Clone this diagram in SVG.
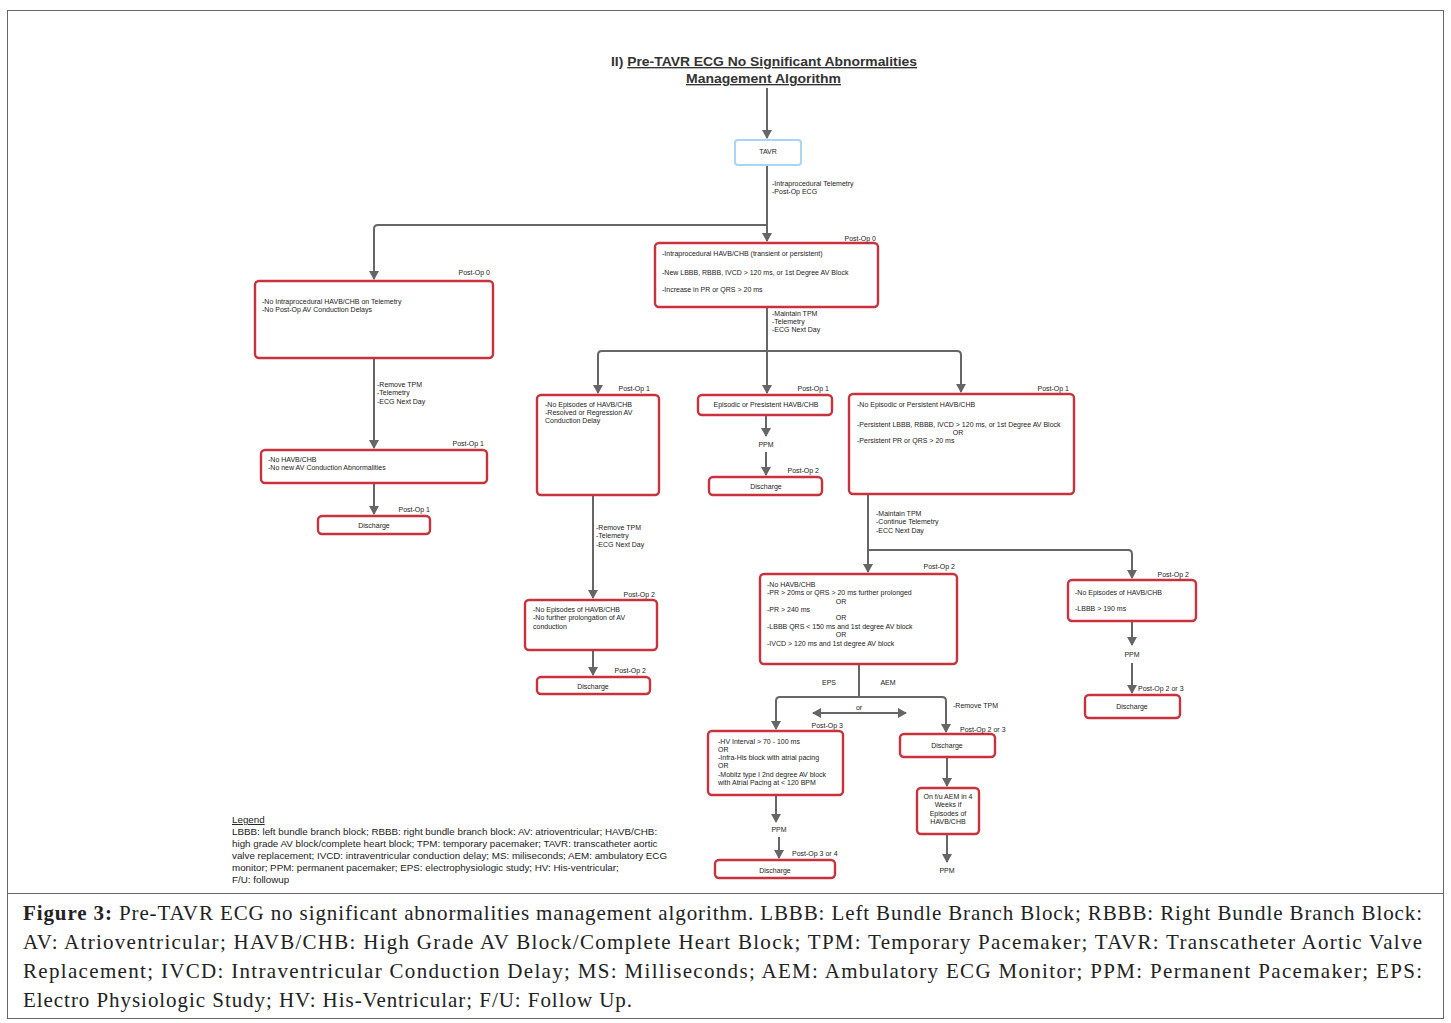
<svg xmlns="http://www.w3.org/2000/svg" width="1451" height="1023" viewBox="0 0 1451 1023">
<style>
.t{font-family:"Liberation Sans",Arial,sans-serif;font-size:7px;fill:#222}
.tc{text-anchor:middle}
.te{text-anchor:end}
.box{fill:#fff;stroke:#c8323c;stroke-width:2.4}
.con{fill:none;stroke:#666;stroke-width:2}
.leg{font-family:"Liberation Sans",Arial,sans-serif;font-size:9.8px;fill:#222}
.cap{font-family:"Liberation Serif","Times New Roman",serif;font-size:21px;fill:#222}
.title{font-family:"Liberation Sans",Arial,sans-serif;font-size:13.5px;font-weight:bold;fill:#333}
</style>
<defs>
<marker id="ah" markerWidth="10" markerHeight="10" refX="8" refY="5" orient="auto" markerUnits="userSpaceOnUse">
<path d="M0,0 L9,5 L0,10 Z" fill="#666"/>
</marker>
</defs>
<rect x="7.5" y="10.5" width="1436" height="1008" fill="#fff" stroke="#666" stroke-width="1"/>
<line x1="7.5" y1="893.5" x2="1443.5" y2="893.5" stroke="#666" stroke-width="1"/>

<g id="title">
<text class="title" x="611" y="66" textLength="306" lengthAdjust="spacingAndGlyphs">II) <tspan text-decoration="underline">Pre-TAVR ECG No Significant Abnormalities</tspan></text>
<text class="title" x="686" y="83" textLength="155" lengthAdjust="spacingAndGlyphs" text-decoration="underline">Management Algorithm</text>
</g>

<g id="connectors">
<path class="con" d="M767,88 V138" marker-end="url(#ah)"/>
<path class="con" d="M767,165 V241" marker-end="url(#ah)"/>
<path class="con" d="M767,225 H378 Q374,225 374,229 V279" marker-end="url(#ah)"/>
<path class="con" d="M374,358 V448" marker-end="url(#ah)"/>
<path class="con" d="M374,483 V514" marker-end="url(#ah)"/>
<path class="con" d="M767,307 V393" marker-end="url(#ah)"/>
<path class="con" d="M767,351 H602 Q598,351 598,355 V393" marker-end="url(#ah)"/>
<path class="con" d="M767,351 H957 Q961,351 961,355 V392" marker-end="url(#ah)"/>
<path class="con" d="M593,495 V598" marker-end="url(#ah)"/>
<path class="con" d="M593,650 V675" marker-end="url(#ah)"/>
<path class="con" d="M766,415 V436" marker-end="url(#ah)"/>
<path class="con" d="M766,452 V475" marker-end="url(#ah)"/>
<path class="con" d="M868,494 V572" marker-end="url(#ah)"/>
<path class="con" d="M868,550 H1128 Q1132,550 1132,554 V578" marker-end="url(#ah)"/>
<path class="con" d="M1132,621 V645" marker-end="url(#ah)"/>
<path class="con" d="M1132,663 V693" marker-end="url(#ah)"/>
<path class="con" d="M859,664 V697 H780 Q776,697 776,701 V729" marker-end="url(#ah)"/>
<path class="con" d="M859,697 H942 Q946,697 946,701 V732" marker-end="url(#ah)"/>
<path class="con" d="M860,713 H906" marker-end="url(#ah)"/>
<path class="con" d="M860,713 H813" marker-end="url(#ah)"/>
<path class="con" d="M776,795 V822" marker-end="url(#ah)"/>
<path class="con" d="M779,837 V858" marker-end="url(#ah)"/>
<path class="con" d="M947,757 V786" marker-end="url(#ah)"/>
<path class="con" d="M947,834 V862" marker-end="url(#ah)"/>
<text class="t" x="772" y="186">-Intraprocedural Telemetry</text>
<text class="t" x="772" y="194">-Post-Op ECG</text>
<text class="t" x="377" y="387">-Remove TPM</text>
<text class="t" x="377" y="395">-Telemetry</text>
<text class="t" x="377" y="404">-ECG Next Day</text>
<text class="t" x="772" y="316">-Maintain TPM</text>
<text class="t" x="772" y="324">-Telemetry</text>
<text class="t" x="772" y="332">-ECG Next Day</text>
<text class="t" x="596" y="530">-Remove TPM</text>
<text class="t" x="596" y="538">-Telemetry</text>
<text class="t" x="596" y="547">-ECG Next Day</text>
<text class="t tc" x="766" y="447">PPM</text>
<text class="t" x="876" y="516">-Maintain TPM</text>
<text class="t" x="876" y="524">-Continue Telemetry</text>
<text class="t" x="876" y="533">-ECC Next Day</text>
<text class="t tc" x="1132" y="657">PPM</text>
<text class="t tc" x="829" y="685">EPS</text>
<text class="t tc" x="888" y="685">AEM</text>
<text class="t tc" x="859" y="710">or</text>
<text class="t" x="953" y="708">-Remove TPM</text>
<text class="t tc" x="779" y="832">PPM</text>
<text class="t tc" x="947" y="873">PPM</text>
</g>

<g id="tavr">
<rect x="735" y="140" width="66" height="25" rx="3" fill="#fff" stroke="#a9d5f2" stroke-width="2"/>
<text class="t tc" x="768" y="154">TAVR</text>
</g>

<g id="center-postop0">
<rect class="box" x="655" y="243" width="223" height="64" rx="4"/>
<text class="t te" x="876" y="241">Post-Op 0</text>
<text class="t" x="662" y="256">-Intraprocedural HAVB/CHB (transient or persistent)</text>
<text class="t" x="662" y="275">-New LBBB, RBBB, IVCD &gt;  120 ms, or 1st Degree AV Block</text>
<text class="t" x="662" y="292">-Increase in PR or QRS &gt; 20 ms</text>
</g>

<g id="left-postop0">
<rect class="box" x="255" y="281" width="238" height="77" rx="4"/>
<text class="t te" x="490" y="275">Post-Op 0</text>
<text class="t" x="262" y="304">-No Intraprocedural HAVB/CHB on Telemetry</text>
<text class="t" x="262" y="312">-No Post-Op AV Conduction Delays</text>
</g>

<g id="left-postop1">
<rect class="box" x="261" y="450" width="226" height="33" rx="4"/>
<text class="t te" x="484" y="446">Post-Op 1</text>
<text class="t" x="268" y="462">-No HAVB/CHB</text>
<text class="t" x="268" y="470">-No new AV Conduction Abnormalities</text>
</g>

<g id="left-discharge">
<rect class="box" x="318" y="516" width="112" height="18" rx="4"/>
<text class="te t" x="430" y="512">Post-Op 1</text>
<text class="t tc" x="374" y="528">Discharge</text>
</g>

<g id="midleft-postop1">
<rect class="box" x="537" y="395" width="122" height="100" rx="4"/>
<text class="t te" x="650" y="391">Post-Op 1</text>
<text class="t" x="545" y="407">-No Episodes of HAVB/CHB</text>
<text class="t" x="545" y="415">-Resolved or Regression AV</text>
<text class="t" x="545" y="423">Conduction Delay</text>
</g>

<g id="midleft-postop2">
<rect class="box" x="525" y="600" width="132" height="50" rx="4"/>
<text class="t te" x="655" y="597">Post-Op 2</text>
<text class="t" x="533" y="612">-No Episodes of HAVB/CHB</text>
<text class="t" x="533" y="620">-No further prolongation of AV</text>
<text class="t" x="533" y="629">conduction</text>
</g>

<g id="midleft-discharge">
<rect class="box" x="537" y="677" width="113" height="17" rx="4"/>
<text class="t te" x="646" y="673">Post-Op 2</text>
<text class="t tc" x="593" y="689">Discharge</text>
</g>

<g id="center-postop1">
<rect class="box" x="698" y="395" width="134" height="20" rx="4"/>
<text class="t te" x="829" y="391">Post-Op 1</text>
<text class="t tc" x="766" y="407">Episodic or Presistent HAVB/CHB</text>
</g>

<g id="center-discharge">
<rect class="box" x="709" y="477" width="113" height="18" rx="4"/>
<text class="t te" x="819" y="473">Post-Op 2</text>
<text class="t tc" x="766" y="489">Discharge</text>
</g>

<g id="right-postop1">
<rect class="box" x="849" y="394" width="225" height="100" rx="4"/>
<text class="t te" x="1069" y="391">Post-Op 1</text>
<text class="t" x="857" y="407">-No Episodic or Persistent HAVB/CHB</text>
<text class="t" x="857" y="427">-Persistent LBBB, RBBB, IVCD &gt;  120 ms, or 1st Degree AV Block</text>
<text class="t tc" x="958" y="435">OR</text>
<text class="t" x="857" y="443">-Persistent PR or QRS &gt; 20 ms</text>
</g>

<g id="postop2-main">
<rect class="box" x="760" y="574" width="197" height="90" rx="4"/>
<text class="t te" x="955" y="569">Post-Op 2</text>
<text class="t" x="767" y="587">-No HAVB/CHB</text>
<text class="t" x="767" y="595">-PR &gt; 20ms or QRS &gt; 20 ms further prolonged</text>
<text class="t tc" x="841" y="604">OR</text>
<text class="t" x="767" y="612">-PR &gt; 240 ms</text>
<text class="t tc" x="841" y="620">OR</text>
<text class="t" x="767" y="629">-LBBB QRS &lt; 150 ms and 1st degree AV block</text>
<text class="t tc" x="841" y="637">OR</text>
<text class="t" x="767" y="646">-IVCD &gt; 120 ms  and 1st degree AV block</text>
</g>

<g id="right-postop2">
<rect class="box" x="1068" y="580" width="128" height="41" rx="4"/>
<text class="t te" x="1189" y="577">Post-Op 2</text>
<text class="t" x="1075" y="595">-No Episodes of HAVB/CHB</text>
<text class="t" x="1075" y="611">-LBBB &gt; 190 ms</text>
</g>

<g id="right-discharge">
<rect class="box" x="1085" y="695" width="95" height="23" rx="4"/>
<text class="t" x="1138" y="691">Post-Op 2 or 3</text>
<text class="t tc" x="1132" y="709">Discharge</text>
</g>

<g id="eps-postop3">
<rect class="box" x="708" y="731" width="135" height="64" rx="4"/>
<text class="t te" x="843" y="728">Post-Op 3</text>
<text class="t" x="718" y="744">-HV Interval &gt; 70 - 100 ms</text>
<text class="t" x="718" y="752">OR</text>
<text class="t" x="718" y="760">-Infra-His block with atrial pacing</text>
<text class="t" x="718" y="768">OR</text>
<text class="t" x="718" y="777">-Mobitz type I 2nd degree AV block</text>
<text class="t" x="718" y="785"> with Atrial Pacing at &lt; 120 BPM</text>
</g>

<g id="eps-discharge">
<rect class="box" x="715" y="860" width="120" height="18" rx="4"/>
<text class="t" x="792" y="856">Post-Op 3 or 4</text>
<text class="t tc" x="775" y="873">Discharge</text>
</g>

<g id="aem-discharge">
<rect class="box" x="900" y="734" width="95" height="23" rx="4"/>
<text class="t" x="960" y="732">Post-Op 2 or 3</text>
<text class="t tc" x="947" y="748">Discharge</text>
</g>

<g id="aem-followup">
<rect class="box" x="917" y="788" width="62" height="46" rx="4"/>
<text class="t tc" x="948" y="799">On f/u AEM in 4</text>
<text class="t tc" x="948" y="807">Weeks if</text>
<text class="t tc" x="948" y="816">Episodes of</text>
<text class="t tc" x="948" y="824">HAVB/CHB</text>
</g>

<g id="legend">
<text class="leg" x="232" y="823" text-decoration="underline">Legend</text>
<text class="leg" x="232" y="835">LBBB: left bundle branch block; RBBB: right bundle branch block: AV: atrioventricular; HAVB/CHB:</text>
<text class="leg" x="232" y="847">high grade AV block/complete heart block; TPM: temporary pacemaker; TAVR: transcatheter aortic</text>
<text class="leg" x="232" y="859">valve replacement; IVCD: intraventricular conduction delay; MS: miliseconds; AEM: ambulatory ECG</text>
<text class="leg" x="232" y="871">monitor; PPM: permanent pacemaker; EPS: electrophysiologic study; HV: His-ventricular;</text>
<text class="leg" x="232" y="883">F/U: followup</text>
</g>

<g id="caption">
<text class="cap" x="23" y="920" textLength="1399" lengthAdjust="spacing"><tspan font-weight="bold">Figure 3:</tspan> Pre-TAVR ECG no significant abnormalities management algorithm. LBBB: Left Bundle Branch Block; RBBB: Right Bundle Branch Block:</text>
<text class="cap" x="23" y="949" textLength="1399" lengthAdjust="spacing">AV: Atrioventricular; HAVB/CHB: High Grade AV Block/Complete Heart Block; TPM: Temporary Pacemaker; TAVR: Transcatheter Aortic Valve</text>
<text class="cap" x="23" y="978" textLength="1399" lengthAdjust="spacing">Replacement; IVCD: Intraventricular Conduction Delay; MS: Milliseconds; AEM: Ambulatory ECG Monitor; PPM: Permanent Pacemaker; EPS:</text>
<text class="cap" x="23" y="1007" textLength="609" lengthAdjust="spacing">Electro Physiologic Study; HV: His-Ventricular; F/U: Follow Up.</text>
</g>
</svg>
